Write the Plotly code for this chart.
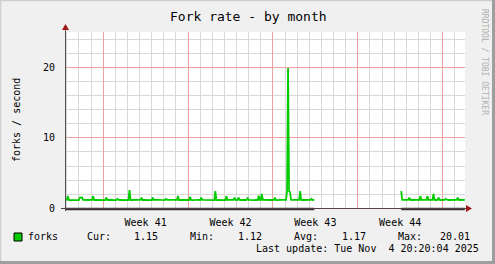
import pandas as pd
import plotly.graph_objects as go

# ---------------- data ----------------
step = "2h"
seg1_start = "2025-10-02 20:00"
seg1_values = [
    1.16, 1.14, 1.15, 1.70, 1.15, 1.14, 1.13, 1.15, 1.16, 1.14, 1.15, 1.14,
    1.15, 1.13, 1.16, 1.50, 1.48, 1.52, 1.16, 1.14, 1.15, 1.13, 1.15, 1.16,
    1.14, 1.15, 1.13, 1.15, 1.70, 1.14, 1.16, 1.15, 1.14, 1.13, 1.15, 1.16,
    1.15, 1.14, 1.16, 1.15, 1.13, 1.50, 1.15, 1.14, 1.16, 1.15, 1.14, 1.15,
    1.13, 1.15, 1.16, 1.14, 1.30, 1.15, 1.14, 1.16, 1.15, 1.13, 1.14, 1.15,
    1.16, 1.14, 1.15, 1.13, 2.55, 1.15, 1.14, 1.16, 1.15, 1.14, 1.13, 1.15,
    1.15, 1.16, 1.14, 1.15, 1.50, 1.13, 1.15, 1.16, 1.14, 1.15, 1.14, 1.16,
    1.14, 1.15, 1.13, 1.50, 1.15, 1.16, 1.14, 1.15, 1.13, 1.14, 1.16, 1.15,
    1.15, 1.14, 1.16, 1.13, 1.30, 1.15, 1.14, 1.15, 1.16, 1.14, 1.12, 1.15,
    1.16, 1.15, 1.14, 1.15, 1.70, 1.14, 1.16, 1.15, 1.13, 1.15, 1.14, 1.16,
    1.14, 1.16, 1.15, 1.14, 1.60, 1.15, 1.13, 1.16, 1.15, 1.14, 1.15, 1.16,
    1.15, 1.14, 1.13, 1.50, 1.16, 1.15, 1.14, 1.15, 1.16, 1.13, 1.15, 1.14,
    1.16, 1.15, 1.14, 1.15, 1.13, 2.40, 1.15, 1.16, 1.14, 1.15, 1.14, 1.16,
    1.15, 1.13, 1.16, 1.15, 1.70, 1.14, 1.15, 1.16, 1.14, 1.15, 1.13, 1.15,
    1.50, 1.16, 1.14, 1.15, 1.50, 1.15, 1.14, 1.16, 1.15, 1.13, 1.15, 1.14,
    1.15, 1.50, 1.16, 1.14, 1.15, 1.14, 1.16, 1.15, 1.13, 1.15, 1.16, 1.14,
    1.75, 1.15, 1.14, 2.00, 1.16, 1.15, 1.13, 1.15, 1.14, 1.16, 1.15, 1.14,
    1.15, 1.16, 1.14, 1.15, 1.50, 1.13, 1.15, 1.16, 1.14, 1.15, 1.14, 1.16,
    1.15, 1.14, 1.16, 1.15, 2.40, 20.01, 2.40, 2.30, 1.16, 1.15, 1.14, 1.15,
    1.14, 1.16, 1.15, 1.13, 1.15, 2.40, 1.16, 1.14, 1.15, 1.14, 1.16, 1.15,
    1.15, 1.14, 1.16, 1.15, 1.30, 1.14, 1.15, 1.16,
]
seg2_start = "2025-10-30 14:00"
seg2_values = [
    2.40, 1.16, 1.15, 1.14, 1.16, 1.15, 1.14, 1.16, 1.50, 1.15, 1.14, 1.16,
    1.15, 1.16, 1.14, 1.15, 1.16, 1.15, 1.14, 1.70, 1.15, 1.16, 1.14, 1.15,
    1.16, 1.15, 1.70, 1.14, 1.16, 1.15, 1.14, 1.16, 2.00, 1.15, 1.14, 1.16,
    1.15, 1.50, 1.16, 1.14, 1.15, 1.16, 1.14, 1.15, 1.30, 1.16, 1.15, 1.14,
    1.15, 1.16, 1.14, 1.15, 1.16, 1.14, 1.15, 1.16, 1.50, 1.15, 1.14, 1.16,
    1.15, 1.14, 1.16, 1.15,
]
x_range = ["2025-10-02 20:20:04", "2025-11-04 20:20:04"]
y_max = 25.14
y_major_step = 10
y_minor_step = 2
title = "Fork rate - by month"
y_title = "forks / second"
series_name = "forks"
stats_labels = ["Cur:", "Min:", "Avg:", "Max:"]
stats_values = ["1.15", "1.12", "1.17", "20.01"]
last_update = "Last update: Tue Nov\u00a0\u00a04 20:20:04 2025"
side_text = "RRDTOOL / TOBI OETIKER"

# ---------------- layout geometry ----------------
W, H = 495, 264
L, R, T, B = 65, 465, 32, 208
def px(x):
    return (x - L) / (R - L)
def py(y):
    return (B - y) / (B - T)

mono = "DejaVu Sans Mono"
green = "#00CC00"

t1 = pd.date_range(seg1_start, periods=len(seg1_values), freq=step)
t2 = pd.date_range(seg2_start, periods=len(seg2_values), freq=step)

fig = go.Figure()
for t, v in ((t1, seg1_values), (t2, seg2_values)):
    fig.add_trace(go.Scatter(x=t, y=v, mode="lines",
                             line=dict(color=green, width=1.8),
                             hoverinfo="skip", showlegend=False))

shapes = []
# dark band at zero where data exists
for t in (t1, t2):
    shapes.append(dict(type="line", xref="x", yref="paper",
                       x0=t[0], x1=t[-1], y0=py(209), y1=py(209),
                       line=dict(color="#333333", width=2.5), layer="above"))
# x axis line + arrow
shapes.append(dict(type="line", xref="paper", yref="paper",
                   x0=px(61), x1=px(467), y0=py(208.5), y1=py(208.5),
                   line=dict(color="#5a4040", width=1), layer="above"))
shapes.append(dict(type="path", xref="paper", yref="paper",
                   path=f"M {px(466)} {py(205)} L {px(466)} {py(212)} L {px(472)} {py(208.5)} Z",
                   fillcolor="#a01818", line=dict(width=0), layer="above"))
# y axis line + arrow
shapes.append(dict(type="line", xref="paper", yref="paper",
                   x0=px(65.5), x1=px(65.5), y0=py(211), y1=py(29),
                   line=dict(color="#505050", width=1), layer="above"))
shapes.append(dict(type="path", xref="paper", yref="paper",
                   path=f"M {px(62)} {py(30)} L {px(69)} {py(30)} L {px(65.5)} {py(24)} Z",
                   fillcolor="#a01818", line=dict(width=0), layer="above"))
# legend square
shapes.append(dict(type="rect", xref="paper", yref="paper",
                   x0=px(14), x1=px(22), y0=py(241), y1=py(233),
                   fillcolor=green, line=dict(color="#000000", width=1)))
# frame (3D border)
shapes.append(dict(type="line", xref="paper", yref="paper",
                   x0=px(0), x1=px(W), y0=py(0.5), y1=py(0.5),
                   line=dict(color="#cfcfcf", width=1.5)))
shapes.append(dict(type="line", xref="paper", yref="paper",
                   x0=px(0.5), x1=px(0.5), y0=py(0), y1=py(H),
                   line=dict(color="#cfcfcf", width=1.5)))
shapes.append(dict(type="line", xref="paper", yref="paper",
                   x0=px(493.5), x1=px(493.5), y0=py(0), y1=py(H),
                   line=dict(color="#9e9e9e", width=3)))
shapes.append(dict(type="line", xref="paper", yref="paper",
                   x0=px(0), x1=px(W), y0=py(262.5), y1=py(262.5),
                   line=dict(color="#9e9e9e", width=3)))

ann = []
def txt(text, x, y, xa="left", size=10, color="#000000", angle=0):
    ann.append(dict(text=text, x=px(x), y=py(y), xref="paper", yref="paper",
                    xanchor=xa, yanchor="middle", showarrow=False,
                    textangle=angle, font=dict(family=mono, size=size, color=color)))

txt(title, 248, 16, xa="center", size=13)
txt(y_title, 16, 120, xa="center", size=10, angle=-90)
txt(side_text, 484, 62, xa="center", size=8, color="#b0b0b0", angle=90)
txt(series_name, 26, 236.5)
label_x = [85, 188, 292, 395.5]
value_right = [159.5, 263.5, 367.5, 472]
for lab, val, lx, vx in zip(stats_labels, stats_values, label_x, value_right):
    txt(lab, lx, 236.5)
    txt(val, vx, 236.5, xa="right")
txt(last_update, 480.5, 248.5, xa="right")

# minor horizontal grid positions (skip the major ones)
y_minor_vals = [v for v in range(0, int(y_max) + 1, y_minor_step) if v % y_major_step]

fig.update_layout(
    template="none",
    width=W, height=H,
    margin=dict(l=L, r=W - R, t=T, b=H - B, pad=0),
    paper_bgcolor="#f0f0f0", plot_bgcolor="#ffffff",
    shapes=shapes, annotations=ann, showlegend=False,
    font=dict(family=mono, size=10, color="#000000"),
)
fig.update_xaxes(
    type="date", range=x_range, tick0="2025-10-06", dtick=7 * 86400000,
    ticklabelmode="period", tickformat="Week %V",
    showgrid=True, gridcolor="#f0a0a0", gridwidth=1,
    minor=dict(dtick=86400000, tick0="2025-10-06", showgrid=True,
               gridcolor="#d8d8d8", gridwidth=1),
    ticks="outside", ticklen=5, tickcolor="rgba(0,0,0,0)",
    showline=False, zeroline=False,
    tickfont=dict(family=mono, size=10),
)
fig.update_yaxes(
    range=[0, y_max], tick0=0, dtick=y_major_step,
    showgrid=True, gridcolor="#f0a0a0", gridwidth=1,
    minor=dict(tickmode="array", tickvals=y_minor_vals, showgrid=True,
               gridcolor="#d8d8d8", gridwidth=1),
    ticks="outside", ticklen=7, tickcolor="rgba(0,0,0,0)",
    showline=False, zeroline=False,
    tickfont=dict(family=mono, size=10),
)

fig.write_html("out.html")
